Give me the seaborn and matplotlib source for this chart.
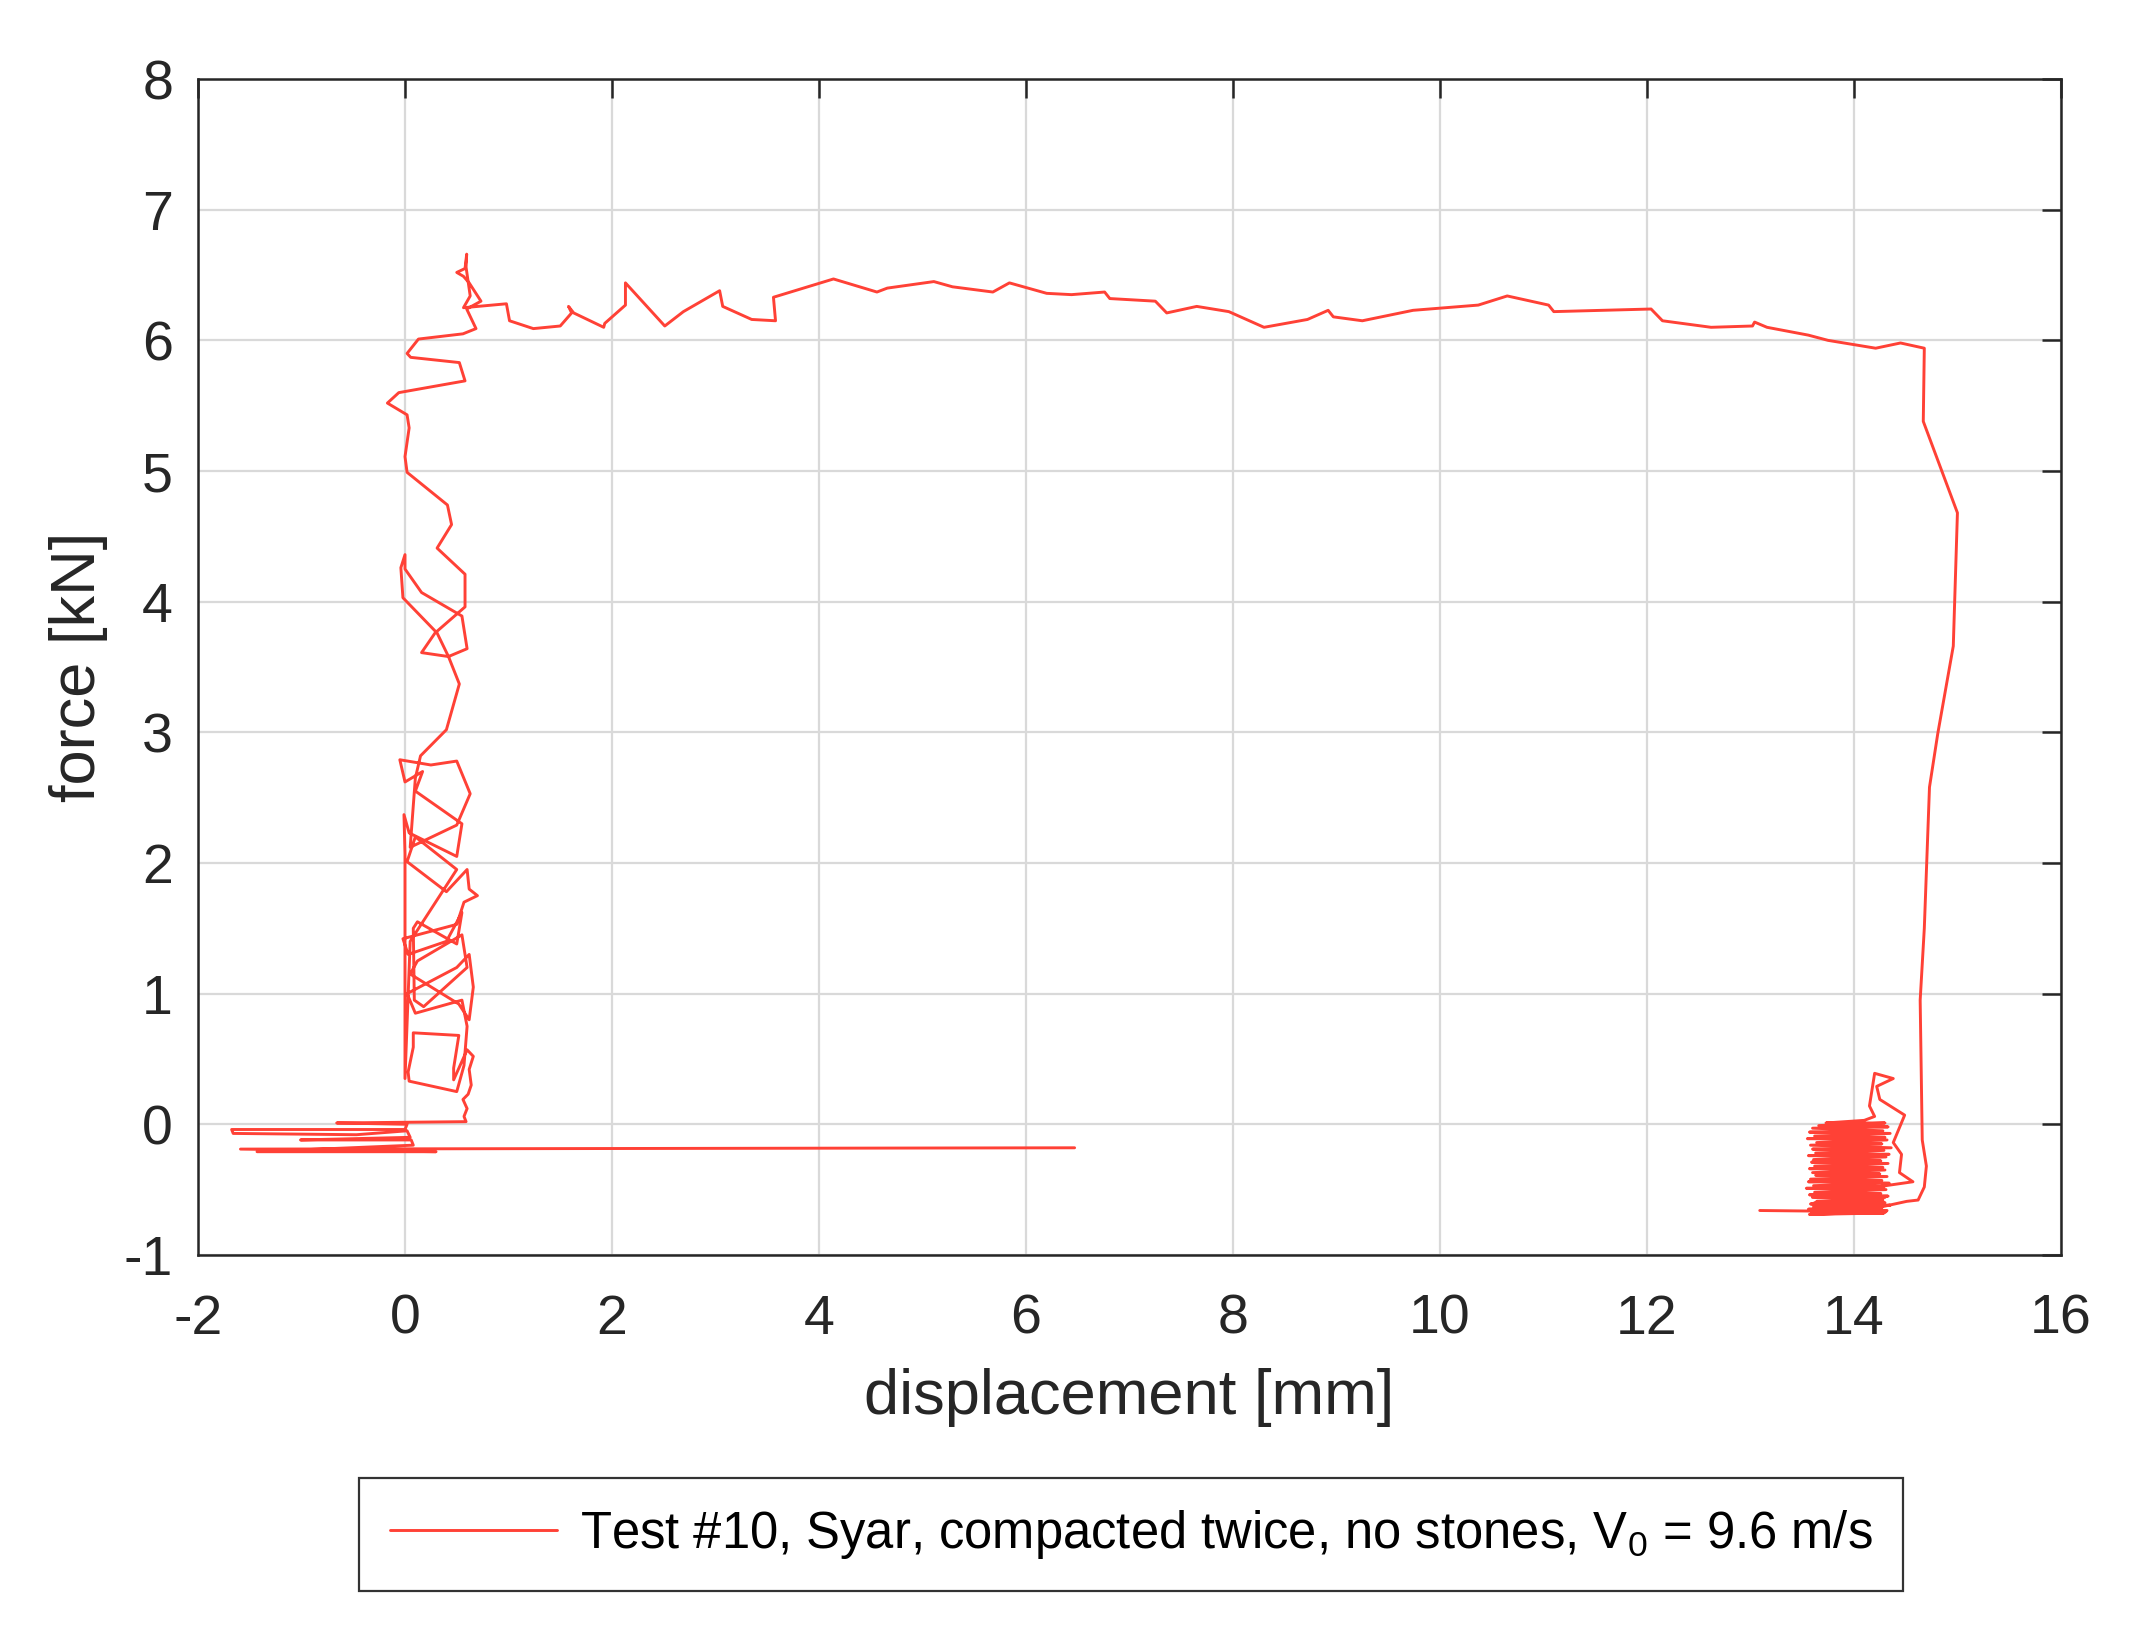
import numpy as np
import pandas as pd
import matplotlib
matplotlib.use('Agg')
import matplotlib.pyplot as plt
import seaborn as sns

# ── data (displacement [mm], force [kN]) ──
# noise before impact + offset line
pre_x = [6.47, -1.59, 0.30, -1.43, 0.08, 0.06, -1.01, 0.05, 0.02, -0.47,
         -1.66, -1.675, 0.00, 0.02, -0.66, 0.59]
pre_y = [-0.18, -0.19, -0.21, -0.21, -0.16, -0.12, -0.12, -0.10, -0.05, -0.08,
         -0.07, -0.04, -0.04, 0.00, 0.01, 0.02]

# force build-up near zero displacement
rise_x = [0.59, 0.57, 0.60, 0.56, 0.61, 0.64, 0.62, 0.66, 0.60, 0.47,
          0.47, 0.52, 0.08, 0.08, 0.03, 0.04, 0.50, 0.57, 0.60, 0.55,
          0.10, 0.02, 0.50, 0.62, 0.66, 0.62, 0.52, 0.05, 0.12, 0.55,
          0.60, 0.18, 0.09, 0.08, 0.12, 0.50, 0.55, 0.40, 0.03, -0.02,
          0.50, 0.57, 0.70, 0.62, 0.60, 0.40, 0.02, 0.10, 0.50, 0.05,
          0.00, 0.00, -0.01, 0.04, 0.50, 0.55, 0.10, 0.17, 0.00, -0.05,
          0.25, 0.50, 0.63, 0.50, 0.05, 0.10, 0.15, 0.40,
          0.525, 0.42, 0.31, -0.02, -0.04, 0.00, 0.00, 0.16, 0.55, 0.60,
          0.42, 0.16, 0.29, 0.58, 0.58, 0.31, 0.45, 0.41, 0.02, 0.00,
          0.04, 0.02, -0.17, -0.06, 0.58, 0.525, 0.055, 0.02, 0.13, 0.56,
          0.686, 0.596, 0.734, 0.62, 0.565, 0.50, 0.58, 0.596, 0.59, 0.63,
          0.565]
rise_y = [0.02, 0.06, 0.12, 0.19, 0.23, 0.30, 0.42, 0.52, 0.57, 0.34,
          0.43, 0.68, 0.70, 0.59, 0.40, 0.33, 0.25, 0.45, 0.75, 0.95,
          0.85, 1.00, 1.20, 1.30, 1.05, 0.80, 0.92, 1.15, 1.25, 1.45,
          1.20, 0.90, 0.95, 1.50, 1.55, 1.38, 1.62, 1.40, 1.30, 1.42,
          1.53, 1.70, 1.75, 1.80, 1.95, 1.78, 2.01, 2.20, 1.95, 1.40,
          0.35, 2.07, 2.37, 2.23, 2.05, 2.30, 2.55, 2.70, 2.62, 2.79,
          2.75, 2.78, 2.53, 2.29, 2.12, 2.65, 2.82, 3.02,
          3.37, 3.58, 3.76, 4.03, 4.26, 4.36, 4.25, 4.07, 3.89, 3.64,
          3.58, 3.61, 3.76, 3.96, 4.21, 4.41, 4.59, 4.74, 4.99, 5.11,
          5.33, 5.43, 5.52, 5.60, 5.69, 5.83, 5.87, 5.90, 6.01, 6.05,
          6.09, 6.24, 6.30, 6.44, 6.49, 6.52, 6.55, 6.66, 6.56, 6.34,
          6.25]

# plateau
plateau_x = [0.98, 1.01, 1.24, 1.50, 1.61, 1.58, 1.63, 1.92, 1.93, 2.13,
             2.13, 2.51, 2.69, 3.04, 3.07, 3.35, 3.58, 3.56, 4.14, 4.56,
             4.66, 5.11, 5.29, 5.68, 5.84, 6.20, 6.44, 6.76, 6.81, 7.25,
             7.36, 7.65, 7.96, 8.30, 8.72, 8.92, 8.97, 9.25, 9.74, 10.37,
             10.65, 11.05, 11.10, 12.04, 12.15, 12.62, 13.02, 13.04, 13.16, 13.56,
             13.75, 14.21, 14.45, 14.68]
plateau_y = [6.28, 6.15, 6.09, 6.11, 6.21, 6.26, 6.21, 6.10, 6.13, 6.27,
             6.44, 6.11, 6.22, 6.38, 6.26, 6.16, 6.15, 6.33, 6.47, 6.37,
             6.40, 6.45, 6.41, 6.37, 6.44, 6.36, 6.35, 6.37, 6.32, 6.30,
             6.21, 6.26, 6.22, 6.10, 6.16, 6.23, 6.18, 6.15, 6.23, 6.27,
             6.34, 6.27, 6.22, 6.24, 6.15, 6.10, 6.11, 6.14, 6.10, 6.04,
             6.00, 5.94, 5.98, 5.94]

# unloading / rebound
unload_x = [14.67, 15.00, 14.96, 14.81, 14.73, 14.68, 14.64, 14.66, 14.70, 14.68,
            14.62, 14.51, 14.22, 13.62, 14.30, 13.60, 14.57, 14.44, 14.46, 14.38,
            14.49, 14.25, 14.22, 14.38, 14.20, 14.15, 14.20, 14.10, 13.73]
unload_y = [5.38, 4.68, 3.66, 2.99, 2.58, 1.50, 0.95, -0.12, -0.32, -0.48,
            -0.58, -0.59, -0.64, -0.60, -0.56, -0.55, -0.44, -0.37, -0.23, -0.14,
            0.07, 0.19, 0.29, 0.35, 0.39, 0.14, 0.06, 0.03, 0.01]

# oscillation after the stroke
tail_x = [14.30, 13.66, 14.33, 13.60, 14.28, 13.57, 14.35, 13.62, 14.30, 13.55,
          14.32, 13.64, 14.27, 13.58, 14.36, 13.60, 14.29, 13.63, 14.34, 13.56,
          14.31, 13.61, 14.26, 13.59, 14.33, 13.62, 14.28, 13.57, 14.30, 13.60,
          14.25, 13.63, 14.32, 13.58, 14.27, 13.56, 14.34, 13.61, 14.29, 13.54,
          14.31, 13.62, 14.26, 13.57, 14.33, 13.60, 14.28, 13.64, 14.30, 13.58,
          14.35, 13.61, 14.27, 13.56, 14.32, 13.59, 14.29, 13.63, 14.25, 13.57,
          14.31, 13.60, 14.27, 13.09]
tail_y = [0.01, -0.01, -0.02, -0.03, -0.05, -0.06, -0.07, -0.09, -0.10, -0.11,
          -0.12, -0.14, -0.15, -0.16, -0.18, -0.19, -0.20, -0.22, -0.23, -0.24,
          -0.25, -0.27, -0.28, -0.29, -0.30, -0.32, -0.33, -0.34, -0.35, -0.37,
          -0.38, -0.39, -0.40, -0.42, -0.43, -0.44, -0.45, -0.47, -0.48, -0.49,
          -0.50, -0.52, -0.53, -0.54, -0.55, -0.56, -0.58, -0.59, -0.60, -0.61,
          -0.62, -0.63, -0.64, -0.65, -0.66, -0.67, -0.68, -0.67, -0.68, -0.69,
          -0.67, -0.68, -0.67, -0.66]

x_ticks = [-2, 0, 2, 4, 6, 8, 10, 12, 14, 16]
y_ticks = [-1, 0, 1, 2, 3, 4, 5, 6, 7, 8]
label = r'Test #10, Syar, compacted twice, no stones, V$_0$ = 9.6 m/s'

df = pd.DataFrame({
    'disp': pre_x + rise_x + plateau_x + unload_x + tail_x,
    'force': pre_y + rise_y + plateau_y + unload_y + tail_y,
})

# ── plot ──
sns.set_style('white')
plt.rcParams['font.family'] = ['Liberation Sans', 'DejaVu Sans']
plt.rcParams['axes.unicode_minus'] = False
plt.rcParams['mathtext.fontset'] = 'custom'
plt.rcParams['mathtext.rm'] = 'Liberation Sans'
plt.rcParams['mathtext.it'] = 'Liberation Sans'

fig = plt.figure(figsize=(21.43, 16.37), dpi=100)
ax = fig.add_axes([0.0924, 0.2334, 0.8693, 0.7183])

red = '#ff4136'
sns.lineplot(data=df, x='disp', y='force', sort=False, estimator=None,
             color=red, linewidth=2.1, ax=ax, label=label)
ax.get_legend().remove()

ax.set_xlim(-2, 16)
ax.set_ylim(-1, 8)
ax.set_xticks(x_ticks)
ax.set_yticks(y_ticks)
ax.grid(True, color='#d9d9d9', linewidth=1.6)
ax.set_axisbelow(True)

dark = '#262626'
for s in ax.spines.values():
    s.set_visible(True)
    s.set_color(dark)
    s.set_linewidth(1.8)
ax.tick_params(direction='in', length=14, width=1.8, color=dark,
               labelcolor=dark, labelsize=40, top=True, right=True)
ax.tick_params(axis='x', pad=28)
ax.tick_params(axis='y', pad=18)

ax.set_xlabel('displacement [mm]', fontsize=45.5, color=dark, labelpad=16)
ax.set_ylabel('force [kN]', fontsize=45.5, color=dark, labelpad=11)

handles, labels = ax.get_legend_handles_labels()
leg = fig.legend(handles, labels, loc='center', bbox_to_anchor=(0.5278, 0.0626),
                 fontsize=36.5, frameon=True, fancybox=False, handlelength=3.3,
                 borderpad=0.6, handletextpad=0.45)
leg.get_frame().set_edgecolor('black')
leg.get_frame().set_linewidth(1.6)
for t in leg.get_texts():
    t.set_color('black')

fig.savefig('out.png', dpi=100)
